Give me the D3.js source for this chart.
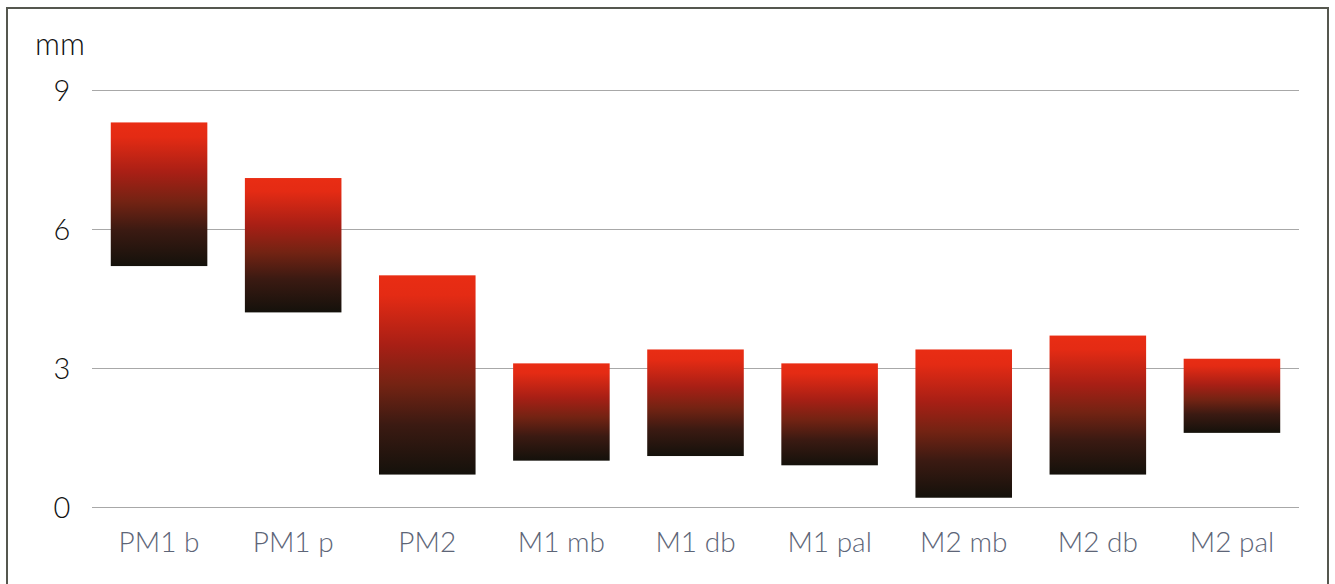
<!DOCTYPE html>
<html>
<head>
<meta charset="utf-8">
<script src="https://cdn.jsdelivr.net/npm/d3@7"></script>
<style>
  html, body { margin: 0; padding: 0; background: #fff; }
  svg { display: block; }
</style>
</head>
<body>
<svg id="chart" width="1335" height="584"></svg>
<script>
const categories = ["PM1 b", "PM1 p", "PM2", "M1 mb", "M1 db", "M1 pal", "M2 mb", "M2 db", "M2 pal"];
const lowValues  = [5.2, 4.2, 0.7, 1.0, 1.1, 0.9, 0.2, 0.7, 1.6];
const highValues = [8.3, 7.1, 5.0, 3.1, 3.4, 3.1, 3.4, 3.7, 3.2];
const yTicks = [0, 3, 6, 9];
const unitLabel = "mm";

const svg = d3.select("#chart");
const W = 1335, H = 584;
const margin = { left: 92, right: 36, top: 90, bottom: 77 };
const FONT = "Lato, 'Open Sans', sans-serif";

// frame border (top, left, right)
svg.append("path")
  .attr("d", `M7,${H + 5} L7,8 L1328,8 L1328,${H + 5}`)
  .attr("fill", "none")
  .attr("stroke", "#55574f")
  .attr("stroke-width", 2);

const x = d3.scaleBand()
  .domain(categories)
  .range([margin.left, W - margin.right])
  .paddingInner(0.28)
  .paddingOuter(0.14);

const y = d3.scaleLinear()
  .domain([0, 9])
  .range([507, 90]);

const defs = svg.append("defs");
const grad = defs.append("linearGradient")
  .attr("id", "barGrad")
  .attr("x1", 0).attr("y1", 0).attr("x2", 0).attr("y2", 1);
[
  [0, "#e92d14"], [0.1, "#e42b14"], [0.35, "#a81f15"], [0.55, "#742313"],
  [0.75, "#3b1a12"], [1, "#14110b"]
].forEach(([o, c]) => grad.append("stop").attr("offset", o).attr("stop-color", c));

// grid + y axis
const yAxis = d3.axisLeft(y).tickValues(yTicks).tickSize(-(W - margin.right - margin.left)).tickPadding(22);
const gy = svg.append("g")
  .attr("transform", `translate(${margin.left},0)`)
  .call(yAxis);
gy.select(".domain").remove();
gy.selectAll(".tick line").attr("stroke", "#a8a8a8").attr("stroke-width", 1);
gy.selectAll(".tick text")
  .attr("fill", "#111")
  .attr("font-family", FONT)
  .attr("font-weight", 300)
  .attr("font-size", 29)
  .attr("text-anchor", "middle")
  .attr("x", -30)
  .attr("dy", "0.35em");

svg.append("text")
  .attr("x", 60).attr("y", 55)
  .attr("text-anchor", "middle")
  .attr("fill", "#111")
  .attr("font-family", FONT)
  .attr("font-weight", 300)
  .attr("font-size", 31)
  .text(unitLabel);

// bars
svg.append("g").selectAll("rect")
  .data(categories)
  .join("rect")
  .attr("x", d => x(d))
  .attr("width", x.bandwidth())
  .attr("y", (d, i) => y(highValues[i]))
  .attr("height", (d, i) => y(lowValues[i]) - y(highValues[i]))
  .attr("fill", "url(#barGrad)");

// x axis labels
const xAxis = d3.axisBottom(x).tickSize(0).tickPadding(25);
const gx = svg.append("g")
  .attr("transform", `translate(0,${y(0)})`)
  .call(xAxis);
gx.select(".domain").remove();
gx.selectAll(".tick text")
  .attr("fill", "#5d6577")
  .attr("font-family", FONT)
  .attr("font-weight", 300)
  .attr("font-size", 28);
</script>
</body>
</html>
